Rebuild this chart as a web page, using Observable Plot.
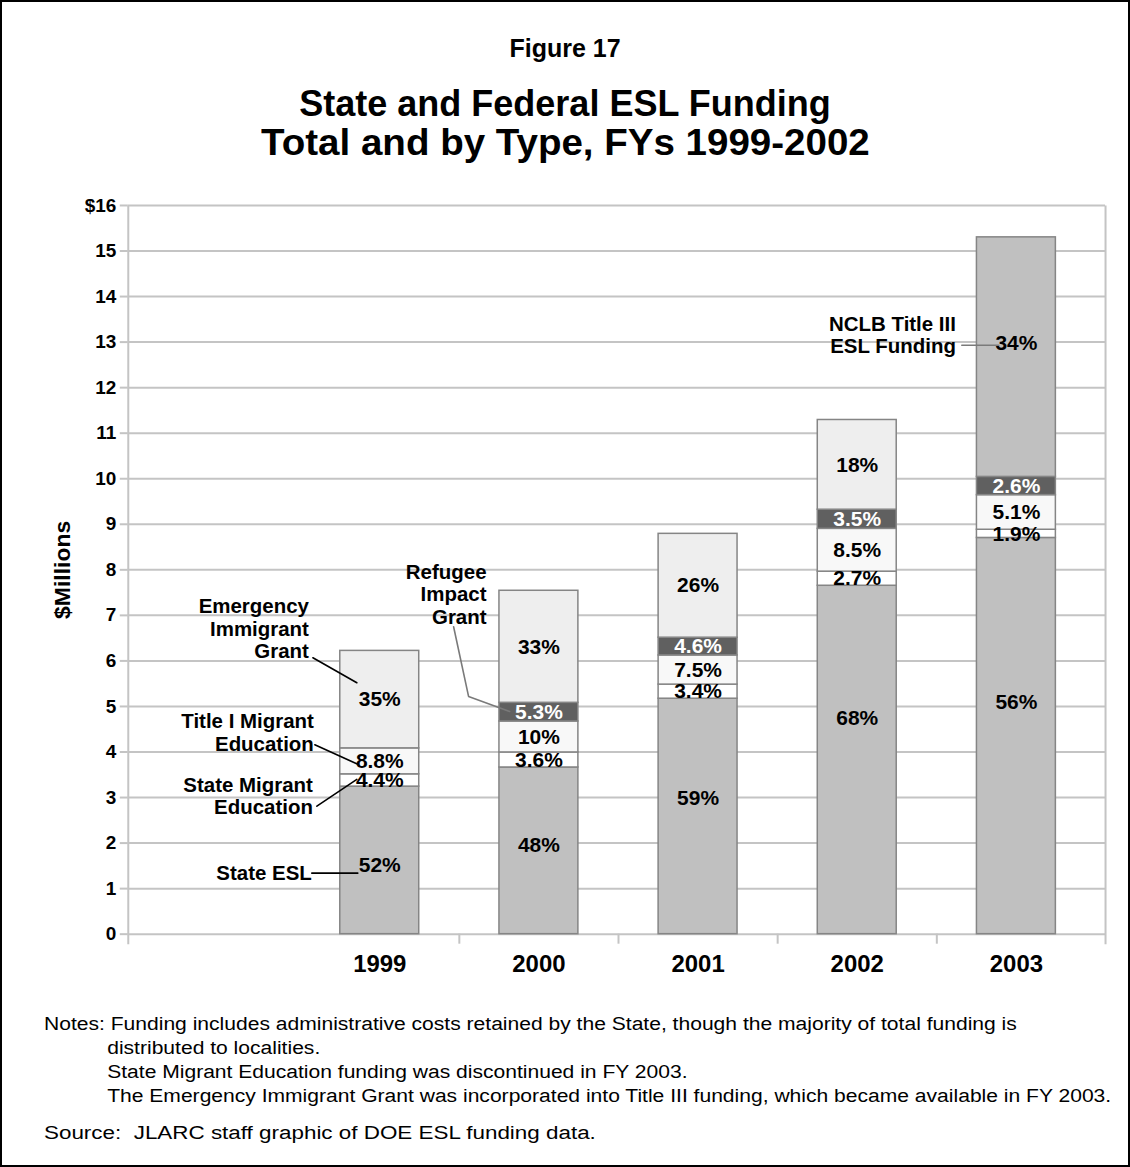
<!DOCTYPE html>
<html><head><meta charset="utf-8">
<script src="https://cdn.jsdelivr.net/npm/d3@7"></script>
<script src="https://cdn.jsdelivr.net/npm/@observablehq/plot@0.6"></script>
<style>
html,body{margin:0;padding:0;background:#fff;}
#page{position:relative;width:1130px;height:1167px;box-sizing:border-box;border:2px solid #000;font-family:"Liberation Sans",Arial,sans-serif;color:#000;overflow:hidden;background:#fff;}
.t{position:absolute;left:0;width:1126px;text-align:center;font-weight:bold;}
#fig{top:31px;font-size:25px;line-height:30px;}
#title{top:82px;font-size:36px;line-height:39px;}
#title .l2{display:inline-block;transform:scaleX(1.07);transform-origin:center;}
#chart{position:absolute;left:-2px;top:188px;}
#notes{position:absolute;left:42px;top:1010px;font-size:18px;line-height:24px;transform:scaleX(1.17);transform-origin:left top;white-space:nowrap;}
#notes .ind{padding-left:54px;}
#source{position:absolute;left:42px;top:1119px;font-size:18px;line-height:24px;transform:scaleX(1.245);transform-origin:left top;white-space:nowrap;}
</style>
</head><body>
<div id="page">
  <div class="t" id="fig">Figure 17</div>
  <div class="t" id="title">State and Federal ESL Funding<br><span class="l2">Total and by Type, FYs 1999-2002</span></div>
  <div id="chart"></div>
  <div id="notes">
    <div>Notes: Funding includes administrative costs retained by the State, though the majority of total funding is</div>
    <div class="ind">distributed to localities.</div>
    <div class="ind">State Migrant Education funding was discontinued in FY 2003.</div>
    <div class="ind">The Emergency Immigrant Grant was incorporated into Title III funding, which became available in FY 2003.</div>
  </div>
  <div id="source">Source:&nbsp; JLARC staff graphic of DOE ESL funding data.</div>
</div>
<script>
// ---- data ($ millions) ----
const years = [1999, 2000, 2001, 2002, 2003];
const typeNames = ["State ESL", "State Migrant Education", "Title I Migrant Education",
  "Refugee Impact Grant", "Emergency Immigrant Grant", "NCLB Title III ESL Funding"];
const stateESL           = [3.24, 3.66, 5.17, 7.65, 8.70];
const stateMigrant       = [0.27, 0.33, 0.31, 0.31, 0.18];
const titleIMigrant      = [0.57, 0.68, 0.64, 0.94, 0.76];
const refugeeImpact      = [0,    0.41, 0.39, 0.42, 0.40];
const emergencyImmigrant = [2.14, 2.46, 2.28, 1.97, 0];
const nclbTitleIII       = [0,    0,    0,    0,    5.26];
const stateESLPct           = ["52%", "48%", "59%", "68%", "56%"];
const stateMigrantPct       = ["4.4%", "3.6%", "3.4%", "2.7%", "1.9%"];
const titleIMigrantPct      = ["8.8%", "10%", "7.5%", "8.5%", "5.1%"];
const refugeeImpactPct      = [null, "5.3%", "4.6%", "3.5%", "2.6%"];
const emergencyImmigrantPct = ["35%", "33%", "26%", "18%", null];
const nclbTitleIIIPct       = [null, null, null, null, "34%"];
const yTicks = [0, 1, 2, 3, 4, 5, 6, 7, 8, 9, 10, 11, 12, 13, 14, 15, 16];

// callout texts (anchored in data space: year, $M)
const callouts = [
  {text: "Emergency\nImmigrant\nGrant", x: 1998.555, y: 6.71},
  {text: "Title I Migrant\nEducation", x: 1998.586, y: 4.43},
  {text: "State Migrant\nEducation", x: 1998.58, y: 3.04},
  {text: "State ESL", x: 1998.573, y: 1.34},
  {text: "Refugee\nImpact\nGrant", x: 1999.671, y: 7.47},
  {text: "NCLB Title III\nESL Funding", x: 2002.62, y: 13.16}
];
const leaders = [
  {id: "eig", gray: false, pts: [[1998.58, 6.07], [1998.856, 5.52]]},
  {id: "t1", gray: false, pts: [[1998.592, 4.16], [1998.862, 3.73]]},
  {id: "smg", gray: false, pts: [[1998.605, 2.81], [1998.856, 3.40]]},
  {id: "esl", gray: false, pts: [[1998.573, 1.34], [1998.862, 1.34]]},
  {id: "rig", gray: true, pts: [[1999.464, 6.75], [1999.558, 5.22], [1999.816, 4.89]]},
  {id: "nclb", gray: true, pts: [[2002.657, 12.93], [2002.89, 12.93]]}
];

// ---- styles ----
const fills = ["#c0c0c0", "#ffffff", "#f8f8f8", "#606060", "#eeeeee", "#c0c0c0"];
const labelFill = ["#000", "#000", "#000", "#fff", "#000", "#000"];
const labelDy = {"1999|0": 5, "2000|0": -6, "2001|0": -18, "2002|0": -42, "2003|0": -34, "2003|5": -14};
const halfBar = 0.248;

// ---- build stacked rows ----
const series = [stateESL, stateMigrant, titleIMigrant, refugeeImpact, emergencyImmigrant, nclbTitleIII];
const pcts = [stateESLPct, stateMigrantPct, titleIMigrantPct, refugeeImpactPct, emergencyImmigrantPct, nclbTitleIIIPct];
const rows = [];
years.forEach((yr, i) => {
  let acc = 0;
  series.forEach((s, k) => {
    const v = s[i];
    if (v > 0) {
      rows.push({year: yr, type: typeNames[k], k, y1: acc, y2: acc + v, mid: acc + v / 2,
        label: pcts[k][i], dy: labelDy[yr + "|" + k] || 0});
    }
    acc += v;
  });
});
const labelRows = rows.filter(d => d.label);
const leaderRows = leaders.flatMap(l => l.pts.map(([x, y]) => ({id: l.id, gray: l.gray, x, y})));
const boundaries = years.slice(0, -1).map(y => y + 0.5);

const plot = Plot.plot({
  width: 1130, height: 790,
  marginLeft: 128, marginRight: 23, marginTop: 15, marginBottom: 45,
  style: {fontFamily: "Liberation Sans, Arial, sans-serif", fontWeight: "bold", background: "#fff", color: "#000"},
  x: {domain: [1997.42, 2003.56]},
  y: {domain: [0, 16]},
  color: {domain: typeNames, range: fills},
  marks: [
    Plot.ruleY(yTicks, {stroke: "#c4c4c4", strokeWidth: 2}),
    Plot.frame({stroke: "#c4c4c4", strokeWidth: 2, insetBottom: -10, strokeDasharray: "0 979 740 979 740"}),
    Plot.ruleX(boundaries, {y1: 0, y2: -0.22, stroke: "#c4c4c4", strokeWidth: 2}),
    Plot.axisY(yTicks, {tickSize: 8, tickPadding: 4, stroke: "#c4c4c4", strokeWidth: 2, fill: "#000",
      fontSize: 19, fontWeight: "bold", tickFormat: d => d === 16 ? "$16" : String(d), label: null}),
    Plot.axisX(years, {tickSize: 0, tickPadding: 21, fontSize: 24, fontWeight: "bold", fill: "#000",
      tickFormat: d => String(d), label: null}),
    Plot.text(["$Millions"], {frameAnchor: "left", textAnchor: "middle", dx: -66, rotate: -90,
      fontSize: 23, fontWeight: "bold", fill: "#000"}),
    Plot.rect(rows, {x1: d => d.year - halfBar, x2: d => d.year + halfBar, y1: "y1", y2: "y2",
      fill: "type", stroke: "#858585", strokeWidth: 1.5}),
    Plot.text(labelRows, {x: "year", y: "mid", text: "label",
      fill: d => labelFill[d.k], fontSize: 21, fontWeight: "bold"}),
    Plot.line(leaderRows, {x: "x", y: "y", z: "id", stroke: d => d.gray ? "#7a7a7a" : "#000", strokeWidth: 1.6}),
    Plot.text(callouts, {x: "x", y: "y", text: "text", textAnchor: "end", lineHeight: 1.1,
      fontSize: 20.5, fontWeight: "bold", fill: "#000"})
  ]
});
// per-label vertical nudges (pixel styling), matched to labelRows order
const textGroups = plot.querySelectorAll('g[aria-label="text"]');
if (textGroups.length > 1) {
  textGroups[1].querySelectorAll("text").forEach((t, i) => {
    const dy = labelRows[i] ? labelRows[i].dy : 0;
    if (dy) t.setAttribute("dy", dy);
  });
}
document.getElementById("chart").appendChild(plot);
</script>
</body></html>
